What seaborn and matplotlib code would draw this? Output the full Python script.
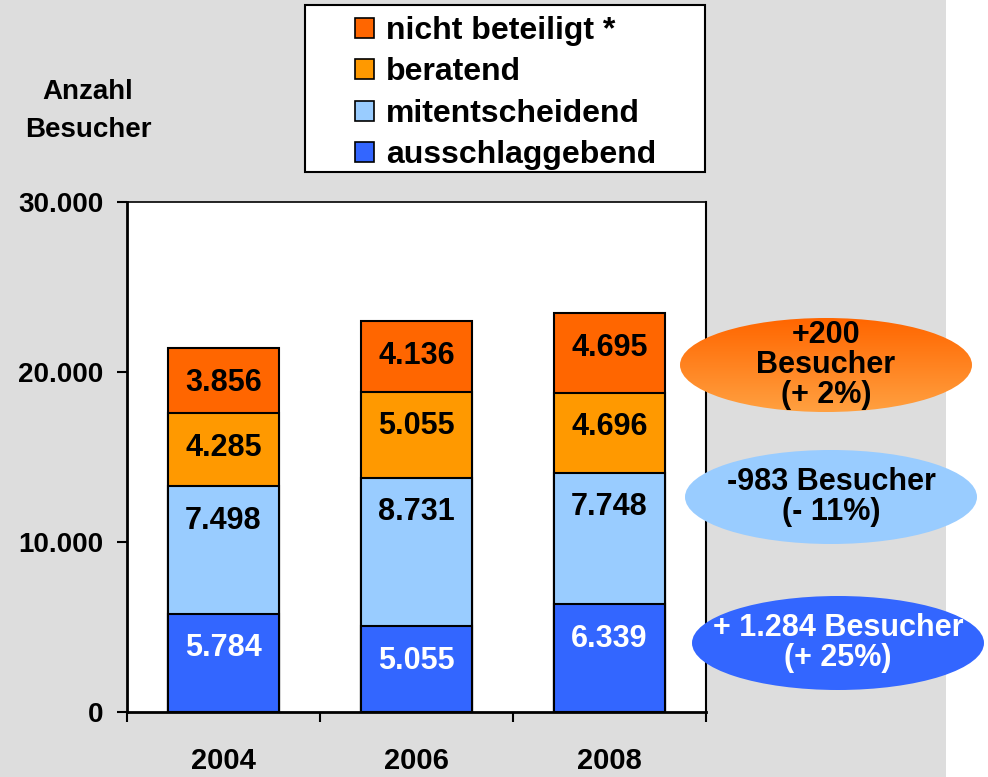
import matplotlib
matplotlib.use("Agg")
import matplotlib.pyplot as plt
from matplotlib.patches import Rectangle, Ellipse, Patch
from matplotlib.colors import LinearSegmentedColormap
import numpy as np
import pandas as pd
import seaborn as sns

# Daten
jahre = ["2004", "2006", "2008"]
ausschlaggebend = [5784, 5055, 6339]
mitentscheidend = [7498, 8731, 7748]
beratend = [4285, 5055, 4696]
nicht_beteiligt = [3856, 4136, 4695]

serien = ["ausschlaggebend", "mitentscheidend", "beratend", "nicht beteiligt *"]
farben = ["#3366ff", "#99ccff", "#ff9900", "#ff6600"]
label_farben = ["white", "black", "black", "black"]

y_ticks = [0, 10000, 20000, 30000]
y_tick_labels = ["0", "10.000", "20.000", "30.000"]

blasen_texte = ["+200\nBesucher\n(+ 2%)", "-983 Besucher\n(- 11%)", "+ 1.284 Besucher\n(+ 25%)"]

sns.set_style("white")
plt.rcParams["font.family"] = ["Liberation Sans", "DejaVu Sans"]
plt.rcParams["font.weight"] = "bold"
plt.rcParams["text.color"] = "black"
plt.rcParams["xtick.color"] = "black"
plt.rcParams["ytick.color"] = "black"
plt.rcParams["axes.labelcolor"] = "black"

W, H = 988, 777
fig = plt.figure(figsize=(W / 100, H / 100), dpi=100)
fig.patch.set_facecolor("white")
# grauer Hintergrund (rechter Rand bleibt weiss)
fig.add_artist(Rectangle((0, 0), 946 / W, 1, transform=fig.transFigure,
                         facecolor="#dddddd", edgecolor="none", zorder=-5))

ax = fig.add_axes([127 / W, (H - 712) / H, (706 - 127) / W, (712 - 202) / H])
ax.set_facecolor("white")

df = pd.DataFrame({"Jahr": jahre,
                   "ausschlaggebend": ausschlaggebend,
                   "mitentscheidend": mitentscheidend,
                   "beratend": beratend,
                   "nicht beteiligt *": nicht_beteiligt})
cum = df[serien].cumsum(axis=1)

# gestapelte Balken: von oben nach unten zeichnen
for i in range(len(serien) - 1, -1, -1):
    s = serien[i]
    sns.barplot(x=df["Jahr"], y=cum[s], color=farben[i], width=0.58,
                edgecolor="black", linewidth=1.5, saturation=1, ax=ax)

# Wertebeschriftung (innen, nahe dem oberen Segmentrand)
for i, s in enumerate(serien):
    for j in range(len(jahre)):
        wert = f"{df[s][j]:,}".replace(",", ".")
        ax.annotate(wert, xy=(j, cum[s][j]), xytext=(0, -25), textcoords="offset points",
                    ha="center", va="center", fontsize=22, fontweight="bold",
                    color=label_farben[i])

ax.set_xlim(-0.5, 2.5)
ax.set_ylim(0, 30000)
ax.set_xlabel("")
ax.set_ylabel("")
ax.set_yticks(y_ticks)
ax.set_yticklabels(y_tick_labels, fontsize=20, fontweight="bold")
ax.set_xticks(range(len(jahre)))
ax.set_xticklabels(jahre, fontsize=21, fontweight="bold")
ax.tick_params(axis="x", which="major", bottom=True, length=0, pad=25)
ax.set_xticks([-0.5, 0.5, 1.5, 2.5], minor=True)
ax.tick_params(axis="x", which="minor", bottom=True, length=7, width=1.5,
               color="black", direction="out")
ax.tick_params(axis="y", left=True, length=7, width=1.5, color="black",
               direction="out", pad=10)
for sp in ax.spines.values():
    sp.set_visible(True)
    sp.set_color("black")
ax.spines["left"].set_linewidth(2)
ax.spines["bottom"].set_linewidth(2)
ax.spines["top"].set_linewidth(1.2)
ax.spines["right"].set_linewidth(1.5)

# Achsentitel
fig.text(88 / W, 1 - 111 / H, "Anzahl\nBesucher", ha="center", va="center",
         fontsize=20, fontweight="bold", linespacing=1.6)

# Overlay fuer Legende und Blasen
ov = fig.add_axes([0, 0, 1, 1], zorder=5)
ov.set_xlim(0, W)
ov.set_ylim(H, 0)
ov.axis("off")
ov.patch.set_alpha(0)

ov.add_patch(Rectangle((305, 5), 400, 167, facecolor="white", edgecolor="black", linewidth=1.5))
handles = [Patch(facecolor=farben[i], edgecolor="black", linewidth=1.2, label=serien[i])
           for i in range(len(serien) - 1, -1, -1)]
leg = ov.legend(handles=handles, loc="upper left", bbox_to_anchor=(355 / W, 1 - 16 / H),
                bbox_transform=fig.transFigure, frameon=False, fontsize=23,
                handlelength=0.58, handleheight=0.58, handletextpad=0.4,
                labelspacing=0.36, borderpad=0, borderaxespad=0)
for t in leg.get_texts():
    t.set_fontweight("bold")

# Blasen
blasen = [((826, 365), "orange"), ((831, 497), "#99ccff"), ((838, 643), "#3366ff")]
text_farben = ["black", "black", "white"]
for k, ((cx, cy), fc) in enumerate(blasen):
    e = Ellipse((cx, cy), 292, 94, facecolor=fc if k > 0 else "none", edgecolor="none")
    ov.add_patch(e)
    if k == 0:
        grad = np.linspace(0, 1, 100).reshape(-1, 1)
        cmap = LinearSegmentedColormap.from_list("og", ["#ff6600", "#ffa040"])
        im = ov.imshow(grad, cmap=cmap, extent=(cx - 146, cx + 146, cy + 47, cy - 47),
                       aspect="auto", zorder=1)
        im.set_clip_path(e)
    ov.text(cx, cy, blasen_texte[k], ha="center", va="center", fontsize=22,
            fontweight="bold", color=text_farben[k], linespacing=1.0, zorder=3)
ov.set_xlim(0, W)
ov.set_ylim(H, 0)

fig.savefig("out.png", dpi=100)
